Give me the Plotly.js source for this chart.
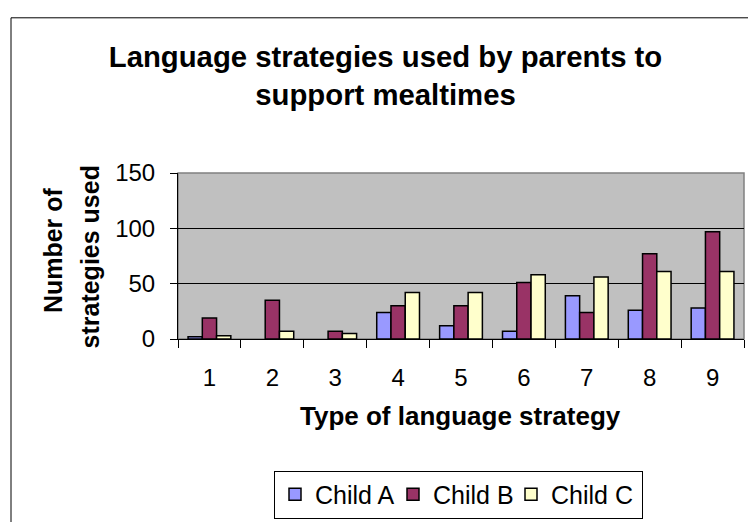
<!DOCTYPE html>
<html>
<head>
<meta charset="utf-8">
<script src="https://cdn.plot.ly/plotly-3.0.1.min.js"></script>
<style>
html,body{margin:0;padding:0;background:#fff;}
#chart{width:748px;height:522px;}
</style>
</head>
<body>
<div id="chart"></div>
<script>
const categories = ["1","2","3","4","5","6","7","8","9"];
const childA = [2, 0, 0, 24, 12, 7, 39, 26, 28];
const childB = [19, 35, 7, 30, 30, 51, 24, 77, 97];
const childC = [3, 7, 5, 42, 42, 58, 56, 61, 61];
const seriesNames = ["Child A", "Child B", "Child C"];
const seriesColors = ["#9999FF", "#993366", "#FFFFCC"];
const yTicks = [0, 50, 100, 150];

const FONT = "Liberation Sans, Arial, sans-serif";
const allSeries = [childA, childB, childC];
const legendWidths = [73, 73, 86];

const traces = allSeries.map((vals, i) => ({
  type: "bar",
  name: seriesNames[i],
  x: categories,
  y: vals,
  legendwidth: legendWidths[i],
  marker: {
    color: seriesColors[i],
    line: { color: "#000000", width: vals.map(v => (v === 0 ? 0 : 1.5)) }
  }
}));

const layout = {
  width: 748,
  height: 522,
  margin: { l: 178, r: 4, t: 173, b: 180 },
  paper_bgcolor: "#FFFFFF",
  plot_bgcolor: "#C0C0C0",
  barmode: "group",
  bargap: 0.32,
  bargroupgap: 0,
  showlegend: true,
  title: {
    text: "Language strategies used by parents to<br>support mealtimes",
    font: { family: FONT, size: 29.3, color: "#000000", weight: "bold" },
    x: 385.5 / 748, xanchor: "center",
    y: 1 - 67 / 522, yanchor: "middle", yref: "container"
  },
  xaxis: {
    type: "category",
    tickson: "boundaries",
    ticks: "outside",
    ticklen: 8,
    tickcolor: "#000000",
    tickwidth: 1,
    showline: true,
    linecolor: "#000000",
    linewidth: 1,
    showgrid: false,
    zeroline: false,
    tickfont: { family: FONT, size: 24, color: "#000000" },
    ticklabelstandoff: 17,
    fixedrange: true
  },
  yaxis: {
    range: [0, 150],
    tickvals: yTicks,
    ticktext: yTicks.map(String),
    ticks: "outside",
    ticklen: 7,
    tickcolor: "#000000",
    showline: true,
    linecolor: "#000000",
    linewidth: 1,
    showgrid: true,
    gridcolor: "#000000",
    gridwidth: 1,
    zeroline: false,
    tickfont: { family: FONT, size: 24, color: "#000000" },
    ticklabelstandoff: 10,
    fixedrange: true
  },
  legend: {
    orientation: "h",
    x: (274 - 178) / 566, xanchor: "left",
    y: (342 - 476) / 169, yanchor: "top",
    bgcolor: "#FFFFFF",
    bordercolor: "#000000",
    borderwidth: 1,
    entrywidthmode: "pixels",
    font: { family: FONT, size: 25, color: "#000000" },
    traceorder: "normal"
  },
  annotations: [
    {
      text: "Number of", xref: "paper", yref: "paper",
      x: (53 - 178) / 566, y: (342 - 251.5) / 169,
      xanchor: "center", yanchor: "middle", textangle: -90, showarrow: false,
      font: { family: FONT, size: 25, color: "#000000", weight: "bold" }
    },
    {
      text: "strategies used", xref: "paper", yref: "paper",
      x: (90 - 178) / 566, y: (342 - 259) / 169,
      xanchor: "center", yanchor: "middle", textangle: -90, showarrow: false,
      font: { family: FONT, size: 25, color: "#000000", weight: "bold" }
    },
    {
      text: "Type of language strategy", xref: "paper", yref: "paper",
      x: (460 - 178) / 566, y: (342 - 420) / 169,
      xanchor: "center", yanchor: "middle", showarrow: false,
      font: { family: FONT, size: 26, color: "#000000", weight: "bold" }
    }
  ],
  shapes: [
    {
      type: "rect", xref: "paper", yref: "paper",
      x0: 0, x1: 1, y0: 0, y1: 1,
      line: { color: "#808080", width: 1.5 }, layer: "below", fillcolor: "rgba(0,0,0,0)"
    },
    {
      type: "rect", xref: "paper", yref: "paper",
      x0: (11 - 178) / 566, x1: 1.5, y0: -2, y1: (342 - 15) / 169,
      line: { color: "#000000", width: 1 }, fillcolor: "rgba(0,0,0,0)"
    }
  ]
};

Plotly.newPlot("chart", traces, layout, { displayModeBar: false, staticPlot: true });
</script>
</body>
</html>
